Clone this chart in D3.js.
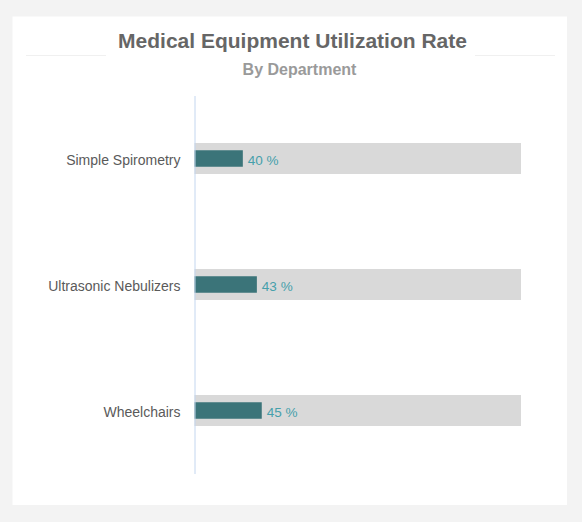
<!DOCTYPE html>
<html>
<head>
<meta charset="utf-8">
<script src="https://cdn.jsdelivr.net/npm/d3@7"></script>
<style>
  html, body { margin: 0; padding: 0; background: #f3f3f3; }
  svg { display: block; font-family: "Liberation Sans", Arial, sans-serif; }
</style>
</head>
<body>
<svg id="chart" width="582" height="522"></svg>
<script>
// Data
const categories = ["Simple Spirometry", "Ultrasonic Nebulizers", "Wheelchairs"];
const rateLabels = [40, 43, 45];            // values shown as labels (%)
const barValues = [14.8, 19.1, 20.6];       // bar lengths on the 0–100 track scale (as drawn)
const trackMax = 100;

const svg = d3.select("#chart");

// Card
svg.append("rect").attr("x", 12.5).attr("y", 16.5).attr("width", 554.5).attr("height", 488.5).attr("fill", "#ffffff");

// Title decoration lines
svg.append("line").attr("x1", 26).attr("x2", 106).attr("y1", 55.5).attr("y2", 55.5).attr("stroke", "#f0f0f0").attr("stroke-width", 1);
svg.append("line").attr("x1", 475).attr("x2", 555).attr("y1", 55.5).attr("y2", 55.5).attr("stroke", "#f0f0f0").attr("stroke-width", 1);

svg.append("text").attr("x", 292.5).attr("y", 47.5).attr("text-anchor", "middle")
  .attr("font-size", 21).attr("font-weight", "bold").attr("fill", "#666666")
  .text("Medical Equipment Utilization Rate");
svg.append("text").attr("x", 299.5).attr("y", 74.5).attr("text-anchor", "middle")
  .attr("font-size", 16).attr("font-weight", "bold").attr("fill", "#9a9a9a")
  .text("By Department");

// Scales
const x = d3.scaleLinear().domain([0, trackMax]).range([194.5, 521]);
const y = d3.scaleBand().domain(categories).range([95.5, 473.5]).paddingInner(0.754).paddingOuter(0.377);

// Tracks
svg.append("g").selectAll("rect").data(categories).join("rect")
  .attr("x", x(0)).attr("y", d => y(d))
  .attr("width", x(trackMax) - x(0)).attr("height", y.bandwidth())
  .attr("fill", "#d9d9d9");

// Value bars
const barH = 16.5;
svg.append("g").selectAll("rect").data(categories).join("rect")
  .attr("x", x(0)).attr("y", d => y(d) + y.bandwidth() / 2 - barH / 2)
  .attr("width", (d, i) => x(barValues[i]) - x(0)).attr("height", barH)
  .attr("fill", "#3b7479");

// Value labels
svg.append("g").selectAll("text").data(categories).join("text")
  .attr("x", (d, i) => x(barValues[i]) + 5)
  .attr("y", d => y(d) + y.bandwidth() / 2)
  .attr("dy", "0.47em")
  .attr("font-size", 13.5).attr("fill", "#46a0ab")
  .text((d, i) => rateLabels[i] + " %");

// Axis
const axis = svg.append("g").attr("transform", `translate(${x(0)},0)`)
  .call(d3.axisLeft(y).tickSize(0).tickPadding(14));
axis.select(".domain").attr("stroke", "#c3d6ef").attr("stroke-width", 1);
axis.selectAll("text").attr("font-size", 14).attr("fill", "#5a5a5a").attr("dy", "0.43em")
  .attr("font-family", "'Liberation Sans', Arial, sans-serif");
</script>
</body>
</html>
